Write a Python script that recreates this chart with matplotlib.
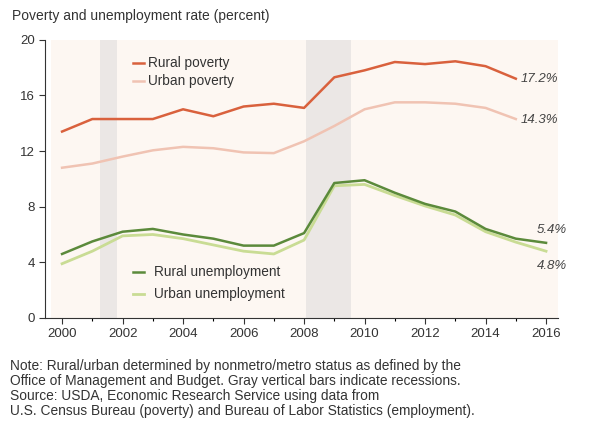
import matplotlib
matplotlib.use("Agg")
import matplotlib.pyplot as plt

plt.rcParams['font.family'] = ['Liberation Sans', 'DejaVu Sans']

years_pov = list(range(2000, 2016))
years_unemp = list(range(2000, 2017))

rural_poverty = [13.4, 14.3, 14.3, 14.3, 15.0, 14.5, 15.2, 15.4, 15.1, 17.3,
                 17.8, 18.4, 18.25, 18.45, 18.1, 17.2]
urban_poverty = [10.8, 11.1, 11.6, 12.05, 12.3, 12.2, 11.9, 11.85, 12.7, 13.8,
                 15.0, 15.5, 15.5, 15.4, 15.1, 14.3]
rural_unemp = [4.6, 5.5, 6.2, 6.4, 6.0, 5.7, 5.2, 5.2, 6.1, 9.7,
               9.9, 9.0, 8.2, 7.65, 6.4, 5.7, 5.4]
urban_unemp = [3.9, 4.8, 5.9, 6.0, 5.7, 5.25, 4.8, 4.6, 5.6, 9.5,
               9.6, 8.8, 8.05, 7.4, 6.2, 5.45, 4.8]

recessions = [(2001.25, 2001.8), (2008.05, 2009.55)]

fig = plt.figure(figsize=(6.1, 4.32), dpi=100)
ax = fig.add_axes([0.074, 0.264, 0.841, 0.644])

ax.axvspan(1999.65, 2016.4, color='#fdf7f2', zorder=0, lw=0)
for start, end in recessions:
    ax.axvspan(start, end, color='#ebe7e5', zorder=1, lw=0)

ax.plot(years_pov, rural_poverty, color='#d9613d', lw=1.8, zorder=3)
ax.plot(years_pov, urban_poverty, color='#f0c3b3', lw=1.8, zorder=3)
ax.plot(years_unemp, urban_unemp, color='#c9dc94', lw=2.0, zorder=3)
ax.plot(years_unemp, rural_unemp, color='#5b8a3b', lw=1.8, zorder=4)

# end labels
lab = dict(fontsize=9.5, style='italic', color='#444444', va='center')
ax.text(2015.15, rural_poverty[-1], '17.2%', ha='left', **lab)
ax.text(2015.15, 14.25, '14.3%', ha='left', **lab)
ax.text(2016.7, 6.35, '5.4%', ha='right', **lab)
ax.text(2016.7, 3.7, '4.8%', ha='right', **lab)

# legends as text
leg = dict(fontsize=9.8, color='#333333', va='center')
ax.plot([2002.35, 2002.7], [18.35, 18.35], color='#d9613d', lw=1.8)
ax.text(2002.85, 18.35, 'Rural poverty', **leg)
ax.plot([2002.35, 2002.7], [17.0, 17.0], color='#f0c3b3', lw=1.8)
ax.text(2002.85, 17.0, 'Urban poverty', **leg)
ax.plot([2002.35, 2002.7], [3.3, 3.3], color='#5b8a3b', lw=1.8)
ax.text(2003.05, 3.3, 'Rural unemployment', **leg)
ax.plot([2002.35, 2002.7], [1.7, 1.7], color='#c9dc94', lw=2.0)
ax.text(2003.05, 1.7, 'Urban unemployment', **leg)

ax.set_xlim(1999.44, 2016.4)
ax.set_ylim(0, 20)
ax.set_xticks(range(2000, 2017, 2))
ax.set_xticks(range(2000, 2017), minor=True)
ax.set_yticks([0, 4, 8, 12, 16, 20])
ax.tick_params(axis='both', labelsize=9.5, colors='#333333', length=4, width=0.8)
ax.tick_params(axis='x', which='minor', length=2, width=0.8)
for s in ['top', 'right']:
    ax.spines[s].set_visible(False)
for s in ['left', 'bottom']:
    ax.spines[s].set_color('#333333')
    ax.spines[s].set_linewidth(0.8)
ax.set_facecolor('white')

fig.text(0.02, 0.962, 'Poverty and unemployment rate (percent)', fontsize=10,
         color='#333333', va='center')

note = ("Note: Rural/urban determined by nonmetro/metro status as defined by the\n"
        "Office of Management and Budget. Gray vertical bars indicate recessions.\n"
        "Source: USDA, Economic Research Service using data from\n"
        "U.S. Census Bureau (poverty) and Bureau of Labor Statistics (employment).")
fig.text(0.016, 0.168, note, fontsize=9.9, color='#333333', va='top',
         linespacing=1.08)

fig.savefig('out.png', dpi=100)
